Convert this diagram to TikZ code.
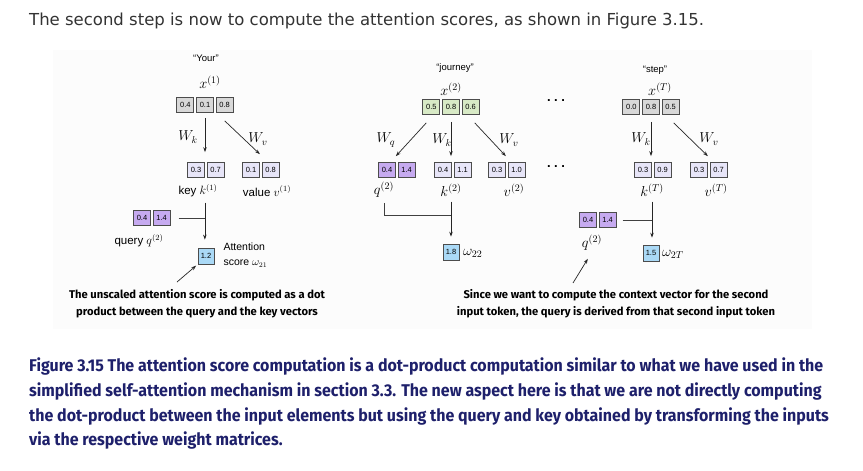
\documentclass[tikz,border=0pt]{standalone}
\usepackage{fontspec}
\setmainfont{Liberation Sans}
\newfontfamily\titlefont{DejaVu Sans}
\newfontfamily\capfont[FakeStretch=0.94]{Fira Sans}
\newfontfamily\notefont{Fira Sans}
\usetikzlibrary{arrows.meta,positioning}
\definecolor{cellgrey}{HTML}{D8D8D8}
\definecolor{cellgreen}{HTML}{D8EAC6}
\definecolor{qpurple}{HTML}{C6AAF0}
\definecolor{kvlav}{HTML}{E7E5F8}
\definecolor{scoreblue}{HTML}{AAD9F6}
\definecolor{capnavy}{HTML}{1E206B}
\definecolor{titlegrey}{HTML}{333333}
\definecolor{panel}{HTML}{FCFCFC}
\tikzset{
  cell/.style={draw=black!70, line width=0.7pt, minimum width=17pt, minimum height=15pt,
               inner sep=0pt, font=\fontsize{7.5}{8}\selectfont},
  ingrey/.style={cell, fill=cellgrey},
  ingreen/.style={cell, fill=cellgreen},
  qcell/.style={cell, fill=qpurple},
  kvcell/.style={cell, fill=kvlav},
  scell/.style={cell, fill=scoreblue, minimum width=16pt, minimum height=16pt},
  word/.style={font=\fontsize{9.5}{11}\selectfont},
  lbl/.style={font=\fontsize{11.5}{13}\selectfont, inner sep=1pt},
  mlbl/.style={font=\fontsize{14}{16}\selectfont, inner sep=1pt},
  flow/.style={-{Stealth[length=5pt,width=3.5pt]}, line width=0.7pt, black!85},
  linkline/.style={line width=0.7pt, black!75},
  note/.style={font=\notefont\bfseries\fontsize{11.2}{17}\selectfont, align=center},
  capline/.style={anchor=base west, inner sep=0pt, text=capnavy,
                  font=\capfont\bfseries\fontsize{17}{18}\selectfont},
}

\begin{document}
\begin{tikzpicture}[x=1pt, y=-1pt]
  \useasboundingbox (0,0) rectangle (863,471);
  \fill[white] (0,0) rectangle (863,471);
  \fill[panel] (53,50) rectangle (812,329);

  \node[anchor=base west, inner sep=0pt, text=titlegrey, font=\titlefont\fontsize{16.5}{18}\selectfont]
    (title) at (29,25) {The second step is now to compute the attention scores, as shown in Figure 3.15.};

  % token 1: "Your"
  \node[word] (your) at (206,58) {``Your''};
  \node[mlbl] (x1) at (210,82) {$x^{(1)}$};
  \node[ingrey] (x1b) at (205,105) {0.1};
  \node[ingrey, left=2pt of x1b] (x1a) {0.4};
  \node[ingrey, right=2pt of x1b] (x1c) {0.8};
  \node[mlbl] (wk1) at (188,137) {$W_k$};
  \node[mlbl] (wv1) at (258,139) {$W_v$};
  \node[kvcell] (k1a) at (196,170) {0.3};
  \node[kvcell, right=2pt of k1a] (k1b) {0.7};
  \node[kvcell] (v1a) at (251,170) {0.1};
  \node[kvcell, right=2pt of v1a] (v1b) {0.8};
  \node[lbl] (k1lab) at (198,191) {key $k^{(1)}$};
  \node[lbl] (v1lab) at (267,191) {value $v^{(1)}$};
  \node[qcell] (q1a) at (142,218) {0.4};
  \node[qcell, right=2pt of q1a] (q1b) {1.4};
  \node[lbl] (q1lab) at (139,241) {query $q^{(2)}$};
  \node[scell] (s1) at (206,256) {1.2};
  \node[anchor=west, align=left, font=\fontsize{10.5}{15}\selectfont] (s1lab) at (220,255) {Attention\\score $\omega_{21}$};
  \coordinate (p1) at (177,282);
  \node[note] (ann1) at (197,304) {The unscaled attention score is computed as a dot\\product between the query and the key vectors};

  \draw[flow, shorten <=5pt, shorten >=10pt] (x1b.south) -- (x1b.south |- k1a.north);
  \draw[flow] ([yshift=-8pt]x1c.south) -- ([yshift=8pt]v1a.north east);
  \draw[flow, shorten <=4pt, shorten >=8pt] (k1a.south east |- k1lab.south) -- (k1a.south east |- s1.north);
  \draw[linkline] ([xshift=8pt]q1b.east) -- (k1a.south east |- q1b.east);
  \draw[flow, shorten >=2pt] (p1) -- (s1.south west);

  % token 2: "journey"
  \node[word] (jour) at (455,68) {``journey''};
  \node[mlbl] (x2) at (451,89) {$x^{(2)}$};
  \node[ingreen] (x2b) at (451,107) {0.8};
  \node[ingreen, left=2pt of x2b] (x2a) {0.5};
  \node[ingreen, right=2pt of x2b] (x2c) {0.6};
  \node[mlbl] (wq2) at (386,140) {$W_q$};
  \node[mlbl] (wk2) at (442,140) {$W_k$};
  \node[mlbl] (wv2) at (509,140) {$W_v$};
  \node[qcell] (q2a) at (387,170) {0.4};
  \node[qcell, right=2pt of q2a] (q2b) {1.4};
  \node[kvcell] (k2a) at (443,170) {0.4};
  \node[kvcell, right=2pt of k2a] (k2b) {1.1};
  \node[kvcell] (v2a) at (497,170) {0.3};
  \node[kvcell, right=2pt of v2a] (v2b) {1.0};
  \node[mlbl] (q2lab) at (384,190) {$q^{(2)}$};
  \node[mlbl] (k2lab) at (451,190) {$k^{(2)}$};
  \node[mlbl] (v2lab) at (514,190) {$v^{(2)}$};
  \node[scell] (s2) at (451,252) {1.8};
  \node[mlbl, anchor=west] (w22) at (462,253) {$\omega_{22}$};

  \draw[flow] ([xshift=-5pt, yshift=-8pt]x2a.south) -- ([yshift=6pt]q2a.north east);
  \draw[flow, shorten <=7pt, shorten >=6pt] (x2b.south) -- (x2b.south |- k2a.north);
  \draw[flow] ([xshift=4pt, yshift=-8pt]x2c.south) -- ([yshift=6pt]v2a.north east);
  \draw[linkline, shorten <=4pt] (q2lab.south) |- ([yshift=-18pt]k2lab.south);
  \draw[flow, shorten <=4pt, shorten >=7pt] (k2lab.south) -- (k2lab.south |- s2.north);

  \node[font=\bfseries\fontsize{13}{13}\selectfont] (dots1) at (556,101) {.\hspace{3.5pt}.\hspace{3.5pt}.};
  \node[font=\bfseries\fontsize{13}{13}\selectfont] (dots2) at (556,167) {.\hspace{3.5pt}.\hspace{3.5pt}.};

  % token T: "step"
  \node[word] (step) at (655,70) {``step''};
  \node[mlbl] (xT) at (660,89) {$x^{(T)}$};
  \node[ingrey] (xTb) at (651,107) {0.8};
  \node[ingrey, left=2pt of xTb] (xTa) {0.0};
  \node[ingrey, right=2pt of xTb] (xTc) {0.5};
  \node[mlbl] (wkT) at (641,139) {$W_k$};
  \node[mlbl] (wvT) at (709,139) {$W_v$};
  \node[kvcell] (kTa) at (643,170) {0.3};
  \node[kvcell, right=2pt of kTa] (kTb) {0.9};
  \node[kvcell] (vTa) at (699,170) {0.3};
  \node[kvcell, right=2pt of vTa] (vTb) {0.7};
  \node[mlbl] (kTlab) at (652,190) {$k^{(T)}$};
  \node[mlbl] (vTlab) at (716,190) {$v^{(T)}$};
  \node[qcell] (qTa) at (588,220) {0.4};
  \node[qcell, right=2pt of qTa] (qTb) {1.4};
  \node[mlbl] (qTlab) at (592,243) {$q^{(2)}$};
  \node[scell] (sT) at (651,253) {1.5};
  \node[mlbl, anchor=west] (w2T) at (661,254) {$\omega_{2T}$};
  \coordinate (p2) at (573,283);
  \node[note] (ann2) at (616,304) {Since we want to compute the context vector for the second\\input token, the query is derived from that second input token};

  \draw[flow, shorten <=7pt, shorten >=6pt] (xTb.south) -- (xTb.south |- kTa.north);
  \draw[flow] ([xshift=3pt, yshift=-8pt]xTc.south) -- ([yshift=6pt]vTa.north east);
  \draw[linkline] ([xshift=6pt]qTb.east) -- (kTlab.south |- qTb.east);
  \draw[flow, shorten <=4pt, shorten >=7pt] (kTlab.south) -- (kTlab.south |- sT.north);
  \draw[flow, shorten >=8pt] (p2) -- (qTlab.south);

  % caption
  \node[capline] (cap1) at (29,371) {Figure 3.15 The attention score computation is a dot-product computation similar to what we have used in the};
  \node[capline] (cap2) at (29,396) {simplified self-attention mechanism in section 3.3. The new aspect here is that we are not directly computing};
  \node[capline] (cap3) at (29,421) {the dot-product between the input elements but using the query and key obtained by transforming the inputs};
  \node[capline] (cap4) at (29,445) {via the respective weight matrices.};
\end{tikzpicture}
\end{document}
